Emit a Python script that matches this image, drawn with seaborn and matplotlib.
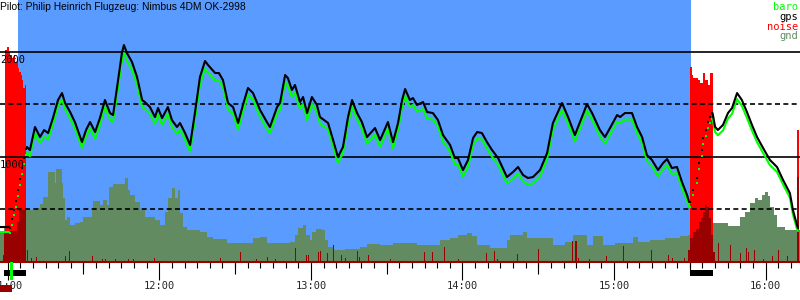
import numpy as np
import pandas as pd
import matplotlib
matplotlib.use("Agg")
import matplotlib.pyplot as plt
from matplotlib.patches import Rectangle
from matplotlib.ticker import MultipleLocator
import seaborn as sns

# ---------------- data ----------------
title = "Pilot: Philip Heinrich Flugzeug: Nimbus 4DM OK-2998"

# track: minutes after 11:00, altitudes in metres, engine flag
track_t = [-3.0, 0.5,
           0.9, 1.7, 2.5, 3.3, 4.1, 4.9, 5.7, 6.5, 7.2,
           7.6, 8.8, 10.8, 12.8, 14.4, 16.0, 17.9, 19.9, 21.5, 22.7, 24.7, 26.6, 29.4, 31.0,
           32.6, 34.6, 36.5, 38.5, 40.5, 41.7, 43.3, 45.2, 46.0, 47.2, 49.2, 51.2, 53.2, 54.3,
           56.3, 58.3, 59.5, 61.1, 63.4, 65.0, 67.0, 68.2, 70.2, 72.2, 74.1, 76.1, 78.1, 79.3,
           82.1, 83.6, 85.2, 87.2, 89.2, 91.2, 93.1, 95.1, 97.1, 99.9, 102.6, 103.8, 106.6,
           107.8, 109.8, 110.9, 112.5, 113.7, 115.7, 116.9, 118.5, 120.4, 122.4, 123.6, 126.8,
           128.8, 130.7, 132.7, 134.7, 136.3, 138.3, 140.2, 142.2, 145.4, 147.4, 150.5, 152.5,
           154.5, 156.1, 157.3, 159.2, 160.4, 162.0, 164.4, 166.0, 168.3, 170.3, 172.3, 175.1,
           177.0, 178.2, 180.2, 182.2, 184.2, 185.8, 187.7, 189.7, 191.7, 194.1, 197.6, 200.0,
           202.0, 204.0, 205.9, 207.9, 210.7, 213.5, 215.8, 219.4, 221.8, 224.5, 227.3, 229.3,
           231.3, 234.4, 236.4, 238.4, 241.2, 242.4, 244.3, 247.1, 249.1, 251.1, 253.0, 255.0,
           257.4, 259.4, 261.0, 262.9, 264.9, 266.9, 268.9, 269.7,
           270.1, 271.2, 272.8, 273.6, 274.8, 275.2, 276.4, 277.2, 278.0, 278.8,
           279.0, 280.0, 281.1, 283.1, 285.1, 286.7, 288.7, 290.6, 292.6, 294.6, 296.6, 299.0,
           301.7, 304.5, 306.9, 309.6, 310.8, 312.4, 312.8]
gps_alt = [328, 328,
           319, 405, 490, 576, 681, 787, 892, 987, 1073,
           1093, 1064, 1284, 1188, 1255, 1226, 1369, 1541, 1608, 1513, 1427, 1331, 1140, 1255,
           1331, 1236, 1369, 1541, 1417, 1398, 1665, 1990, 2066, 1990, 1904, 1761, 1541, 1522,
           1474, 1379, 1465, 1369, 1474, 1350, 1284, 1322, 1226, 1112, 1417, 1761, 1914, 1875,
           1799, 1799, 1732, 1513, 1474, 1322, 1494, 1656, 1608, 1446, 1331, 1284, 1474,
           1513, 1780, 1751, 1637, 1685, 1522, 1570, 1417, 1570, 1494, 1379, 1322,
           1159, 997, 1093, 1379, 1541, 1417, 1331, 1188, 1274, 1159, 1331, 1140,
           1322, 1541, 1646, 1541, 1560, 1494, 1522, 1427, 1417, 1350, 1207, 1112,
           988, 988, 873, 969, 1179, 1236, 1226, 1140, 1064, 988, 806, 854,
           902, 825, 797, 806, 873, 1035, 1322, 1513, 1379, 1207, 1379, 1503,
           1417, 1255, 1188, 1274, 1398, 1379, 1417, 1417, 1284, 1188, 1016, 969,
           873, 940, 978, 892, 902, 758, 634, 568,
           568, 682, 797, 940, 1064, 1179, 1255, 1331, 1379, 1417,
           1417, 1284, 1255, 1303, 1417, 1465, 1608, 1541, 1427, 1303, 1188, 1083,
           969, 902, 778, 653, 491, 348, 319]
baro_alt = [280, 280,
            275, 350, 440, 520, 625, 730, 835, 930, 1015,
            1040, 1005, 1225, 1130, 1195, 1165, 1310, 1480, 1545, 1455, 1365, 1270, 1085, 1195,
            1270, 1175, 1305, 1475, 1355, 1335, 1595, 1915, 1990, 1915, 1830, 1690, 1475, 1455,
            1410, 1315, 1400, 1305, 1410, 1285, 1220, 1260, 1165, 1050, 1355, 1690, 1840, 1805,
            1730, 1725, 1665, 1450, 1410, 1260, 1430, 1590, 1545, 1380, 1265, 1225, 1410,
            1450, 1710, 1680, 1570, 1615, 1455, 1505, 1350, 1505, 1430, 1315, 1260,
            1100, 940, 1035, 1315, 1475, 1355, 1270, 1125, 1210, 1095, 1270, 1080,
            1260, 1475, 1580, 1475, 1495, 1430, 1455, 1365, 1355, 1290, 1145, 1050,
            925, 930, 810, 905, 1115, 1170, 1165, 1080, 1000, 925, 745, 790,
            840, 765, 735, 745, 810, 975, 1255, 1445, 1315, 1145, 1315, 1440,
            1355, 1195, 1125, 1210, 1335, 1320, 1355, 1355, 1225, 1130, 960, 910,
            815, 880, 920, 835, 845, 700, 580, 520,
            520, 630, 745, 885, 1010, 1125, 1200, 1275, 1325, 1360,
            1360, 1235, 1205, 1250, 1365, 1410, 1550, 1485, 1370, 1250, 1140, 1035,
            920, 855, 735, 610, 450, 310, 290]
# engine running (1) or gliding (0) for each track fix
engine_flag = ([0] * 2 + [1] * 9 + [0] * 135 + [1] * 10 + [0] * 19)

# ground elevation profile
gnd_t = [-3.05, -1.47, 2.89, 5.66, 6.85, 11.59, 12.78, 13.97, 15.95, 18.72, 19.11, 21.49,
         21.89, 22.68, 23.47, 24.66, 26.64, 28.61, 29.80, 33.36, 33.76, 36.53, 37.72, 39.30,
         40.09, 41.68, 46.43, 47.61, 48.40, 50.38, 52.36, 54.34, 58.30, 60.28, 62.26, 63.44,
         65.03, 66.21, 67.40, 68.19, 69.38, 70.96, 76.11, 78.88, 81.26, 84.03,
         86.80, 97.09, 99.86, 102.63, 111.73, 113.71, 114.90, 116.88, 118.07, 119.65,
         120.44, 122.02, 124.40, 125.59, 126.77, 128.75, 133.50, 139.44, 142.21, 147.35,
         152.50, 162.00, 171.10, 175.06, 178.23, 181.79, 183.77, 185.75, 190.89, 197.62,
         198.81, 203.95, 205.53, 215.83, 220.58, 223.75, 229.28, 231.66, 235.62, 240.37,
         247.49, 249.47, 254.22, 260.16, 266.10, 269.26, 274.01, 279.15, 285.09, 289.84,
         291.82, 293.80, 295.78, 296.97, 298.55, 299.74, 300.92, 301.72, 303.30, 304.49,
         307.65, 313.59]
gnd_alt = [281, 319, 377, 443, 491, 510, 548, 615, 854, 749, 883, 749,
           606, 396, 424, 348, 367, 377, 424, 510, 577, 539, 587, 539,
           711, 739, 797, 682, 634, 568, 491, 424, 396, 348, 472, 606,
           701, 606, 682, 462, 329, 300, 281, 233, 214, 214,
           176, 224, 233, 176, 186, 252, 319, 348, 252, 205,
           281, 310, 300, 205, 138, 109, 119, 138, 167, 157,
           176, 157, 205, 224, 252, 272, 243, 157, 128, 205,
           252, 281, 224, 157, 186, 252, 157, 243, 157, 176,
           233, 186, 205, 224, 243, 252, 281, 367, 338, 424,
           472, 558, 606, 587, 634, 663, 625, 520, 443, 329,
           300, 300]

# engine noise (bright red, scaled to chart height)
engine_t = [-1.07, -0.28, 0.51, 0.91, 1.70, 2.49, 2.89, 3.68, 4.07, 4.47, 5.26, 5.66, 6.05,
            6.85, 7.24, 270.05, 270.84, 271.24, 273.22, 274.01, 275.20, 275.99, 277.18,
            277.97, 279.15, 312.4, 313.2]
engine_level = [2019, 2047, 1999, 1971, 1942, 1971, 1904, 1923, 1847, 1809, 1780, 1732, 1656,
                1685, 0, 1856, 1780, 1751, 1732, 1704, 1799, 1732, 1685, 1799, 0, 1255, 0]

# noise level during engine runs (dark red)
noise_run_t = [-1.86, -1.47, 3.68, 4.47, 7.24, 269.26, 270.05, 271.24, 272.42, 273.61,
               274.41, 275.20, 275.99, 276.78, 277.57, 278.36, 279.15, 279.94, 312.4, 313.2]
noise_run_level = [62, 291, 377, 491, 0, 109, 224, 281, 310, 377,
                   415, 472, 539, 520, 415, 252, 90, 0, 806, 0]

# isolated noise spikes (dark red)
noise_t = [7.64, 9.22, 11.20, 22.68, 24.26, 33.36, 37.32, 38.51, 42.47, 47.61, 49.59, 57.90,
           84.03, 91.94, 98.27, 102.63, 105.80, 113.71, 118.07, 118.86, 122.81, 123.61,
           126.38, 128.75, 131.92, 133.50, 138.25, 139.04, 142.60, 151.31, 164.77, 167.94,
           172.69, 178.23, 189.31, 192.48, 193.67, 201.58, 209.90, 223.35, 224.54, 224.93,
           225.73, 230.08, 236.81, 243.54, 254.62, 261.35, 262.93, 267.68, 281.13, 285.88,
           289.84, 292.22, 293.01, 295.39, 298.95, 302.51, 304.88, 308.44]
noise_level = [109, 33, 43, 52, 100, 52, 23, 23, 23, 23, 23, 33,
               33, 90, 23, 43, 23, 128, 62, 62, 90, 100,
               81, 157, 62, 33, 100, 43, 62, 23, 90, 90,
               138, 23, 81, 100, 23, 71, 119, 195, 195, 195,
               33, 23, 52, 147, 109, 62, 33, 33, 176, 157,
               81, 128, 90, 109, 23, 52, 109, 52]

grid_solid = [1000, 2000]
grid_dashed = [500, 1500]
hour_ticks = [0, 60, 120, 180, 240, 300]
hour_labels = ["11:00", "12:00", "13:00", "14:00", "15:00", "16:00"]
half_hour_ticks = [30, 90, 150, 210, 270]
scored_window = (4.1, 270.3)
engine_periods = [(-1.5, 7.2), (270.0, 279.2)]
takeoff_t = 0.9
legend_names = ["baro", "gps", "noise", "gnd"]

# ---------------- style ----------------
BLUE = "#599bff"
GND = "#628b62"
RED = "#ff0000"
DKRED = "#990000"
GREEN = "#00ff00"
MONO = "DejaVu Sans Mono"

sns.set_theme(style="white")
plt.rcParams["font.family"] = ["Liberation Sans", "DejaVu Sans"]

fig = plt.figure(figsize=(8, 3), dpi=100)
fig.patch.set_facecolor("white")
ax = fig.add_axes([0, 38.5 / 300, 1, 261.5 / 300])
ax.set_facecolor("white")
ax.set_xlim(-3.05, 313.6)
ax.set_ylim(0, 2496)

ax.axvspan(*scored_window, color=BLUE, lw=0, zorder=0)
ax.fill_between(gnd_t, gnd_alt, step="post", color=GND, lw=0, zorder=1)
ax.fill_between(engine_t, engine_level, step="post", color=RED, lw=0, zorder=2)
ax.fill_between(noise_run_t, noise_run_level, step="post", color=DKRED, lw=0, zorder=3)
ax.bar(noise_t, noise_level, width=0.45, align="edge", color=DKRED, lw=0, zorder=3)

for g in grid_solid:
    ax.axhline(g, color="black", lw=1.2, zorder=4)
for g in grid_dashed:
    ax.axhline(g, color="black", lw=1.2, ls=(0, (3, 2)), zorder=4)

df = pd.DataFrame({"t": track_t, "gps": gps_alt, "baro": baro_alt, "engine": engine_flag})
df["seg"] = (df["engine"].diff().fillna(0) != 0).cumsum()
glide = df[df["engine"] == 0]
climb = df[df["engine"] == 1]
sns.lineplot(data=glide, x="t", y="baro", units="seg", estimator=None, sort=False,
             color=GREEN, lw=1.5, ax=ax, zorder=5, legend=False)
sns.lineplot(data=glide, x="t", y="gps", units="seg", estimator=None, sort=False,
             color="black", lw=1.5, ax=ax, zorder=6, legend=False)
sns.scatterplot(data=climb, x="t", y="baro", color=GREEN, marker="s", s=3, lw=0,
                ax=ax, zorder=5, legend=False)
sns.scatterplot(data=climb, x="t", y="gps", color="black", marker="s", s=3, lw=0,
                ax=ax, zorder=6, legend=False)

# axes & ticks
for s in ["left", "right", "top"]:
    ax.spines[s].set_visible(False)
ax.spines["bottom"].set_color(DKRED)
ax.spines["bottom"].set_linewidth(1.5)
ax.set_yticks([])
ax.set_xlabel("")
ax.set_ylabel("")
ax.set_xticks(hour_ticks, hour_labels)
ax.xaxis.set_minor_locator(MultipleLocator(5))
ax.tick_params(axis="x", which="major", length=13, width=0.8, color="black",
               direction="out", pad=1.2, labelsize=7.5, bottom=True)
ax.tick_params(axis="x", which="minor", length=4.3, width=0.8, color="black",
               direction="out", bottom=True)
for lab in ax.get_xticklabels():
    lab.set_family(MONO)
sec = ax.secondary_xaxis("bottom")
sec.set_xticks(half_hour_ticks)
sec.tick_params(length=8.6, width=0.8, color="black", labelbottom=False)
sec.spines["bottom"].set_visible(False)

trans = ax.get_xaxis_transform()
for a, b in engine_periods:
    ax.add_patch(Rectangle((a, -0.055), b - a, 0.023, transform=trans, clip_on=False,
                           color="black", lw=0, zorder=6))
ax.add_patch(Rectangle((takeoff_t, -0.07), 1.2, 0.07, transform=trans, clip_on=False,
                       color=GREEN, lw=0, zorder=7))
ax.add_patch(Rectangle((ax.get_xlim()[0], -0.117), takeoff_t + 0.8 - ax.get_xlim()[0], 0.027,
                       transform=trans, clip_on=False, color=DKRED, lw=0, zorder=1))

for g in grid_solid:
    ax.annotate(str(g), xy=(0, g), xycoords=("axes fraction", "data"), xytext=(0, -2.2),
                textcoords="offset points", ha="left", va="top", fontsize=7.5,
                family=MONO, color="black", zorder=8)

fig.text(0.0, 1 - 1.5 / 300, title, ha="left", va="top", fontsize=7.4, color="black")
legend_colors = [GREEN, "black", RED, GND]
for i, (name, col) in enumerate(zip(legend_names, legend_colors)):
    fig.text(0.998, 1 - (2 + 9.8 * i) / 300, name, ha="right", va="top", fontsize=7.5,
             family=MONO, color=col)

fig.savefig("out.png", dpi=100)
